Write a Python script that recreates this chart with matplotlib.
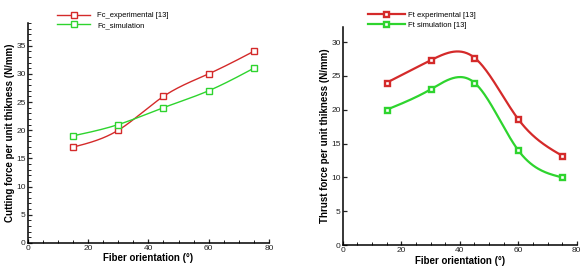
import numpy as np
import matplotlib.pyplot as plt
from matplotlib.ticker import MultipleLocator

plt.rcParams['font.family'] = ['Liberation Sans', 'DejaVu Sans']

# fibre orientation (deg)
angle = [15, 30, 45, 60, 75]
fc_exp = [17, 20, 26, 30, 34]
fc_sim = [19, 21, 24, 27, 31]
ft_exp = [24, 27.3, 27.7, 18.6, 13.2]
ft_sim = [20, 23, 24, 14, 10]

RED = '#d42a2a'
GREEN = '#2ed42e'


def natural_spline(x, y, n=200):
    # natural cubic spline through the data, used only to draw the smooth line
    x = np.asarray(x, float)
    y = np.asarray(y, float)
    k = len(x)
    h = np.diff(x)
    A = np.zeros((k, k))
    b = np.zeros(k)
    A[0, 0] = A[-1, -1] = 1
    for i in range(1, k - 1):
        A[i, i - 1] = h[i - 1]
        A[i, i] = 2 * (h[i - 1] + h[i])
        A[i, i + 1] = h[i]
        b[i] = 6 * ((y[i + 1] - y[i]) / h[i] - (y[i] - y[i - 1]) / h[i - 1])
    m = np.linalg.solve(A, b)
    xs = np.linspace(x[0], x[-1], n)
    j = np.clip(np.searchsorted(x, xs) - 1, 0, k - 2)
    t0 = x[j + 1] - xs
    t1 = xs - x[j]
    hj = h[j]
    ys = (m[j] * t0**3 + m[j + 1] * t1**3) / (6 * hj) \
        + (y[j] / hj - m[j] * hj / 6) * t0 + (y[j + 1] / hj - m[j + 1] * hj / 6) * t1
    return xs, ys


def style_axes(ax, ymax, yminor):
    ax.spines['top'].set_visible(False)
    ax.spines['right'].set_visible(False)
    ax.set_xlim(0, 80)
    ax.set_ylim(0, ymax)
    ax.xaxis.set_major_locator(MultipleLocator(20))
    ax.xaxis.set_minor_locator(MultipleLocator(5))
    ax.yaxis.set_major_locator(MultipleLocator(5))
    if yminor:
        ax.yaxis.set_minor_locator(MultipleLocator(yminor))
    ax.tick_params(which='both', direction='in', labelsize=6, colors='#222222', pad=1.5)
    ax.tick_params(which='major', length=3, width=0.9)
    ax.tick_params(which='minor', length=2, width=0.7)
    for s in ('left', 'bottom'):
        ax.spines[s].set_linewidth(1.1)
    ax.set_xlabel('Fiber orientation (°)', fontsize=7, fontweight='bold', labelpad=1)


fig = plt.figure(figsize=(5.82, 2.72), dpi=100)
ax1 = fig.add_axes([0.048, 0.107, 0.414, 0.808])
ax2 = fig.add_axes([0.589, 0.099, 0.402, 0.801])

# cutting force
for vals, col, lab in [(fc_exp, RED, 'Fc_experimental [13]'), (fc_sim, GREEN, 'Fc_simulation')]:
    xs, ys = natural_spline(angle, vals)
    ax1.plot(xs, ys, color=col, lw=1.0)
    ax1.plot(angle, vals, 's', ms=4, mfc='white', mec=col, mew=1.0)
    ax1.plot([], [], '-s', color=col, lw=1.0, ms=4, mfc='white', mec=col, mew=1.0, label=lab)
style_axes(ax1, 39, 1)
ax1.set_ylabel('Cutting force per unit thikness (N/mm)', fontsize=7, fontweight='bold', labelpad=1)
ax1.legend(loc='lower left', bbox_to_anchor=(0.11, 0.96), frameon=False, fontsize=5.5,
           handlelength=4.2, handletextpad=1.0, labelspacing=0.3, borderaxespad=0)

# thrust force
for vals, col, lab in [(ft_exp, RED, 'Ft experimental [13]'), (ft_sim, GREEN, 'Ft simulation [13]')]:
    xs, ys = natural_spline(angle, vals)
    ax2.plot(xs, ys, color=col, lw=1.6)
    ax2.plot(angle, vals, 's', ms=3.6, mfc='white', mec=col, mew=1.7)
    ax2.plot([], [], '-s', color=col, lw=1.6, ms=3.6, mfc='white', mec=col, mew=1.7, label=lab)
style_axes(ax2, 32.2, None)
ax2.set_ylabel('Thrust force per unit thikness (N/mm)', fontsize=7, fontweight='bold', labelpad=1)
ax2.legend(loc='lower left', bbox_to_anchor=(0.095, 0.98), frameon=False, fontsize=5.5,
           handlelength=4.8, handletextpad=0.4, labelspacing=0.3, borderaxespad=0)

fig.savefig('out.png', dpi=100)
